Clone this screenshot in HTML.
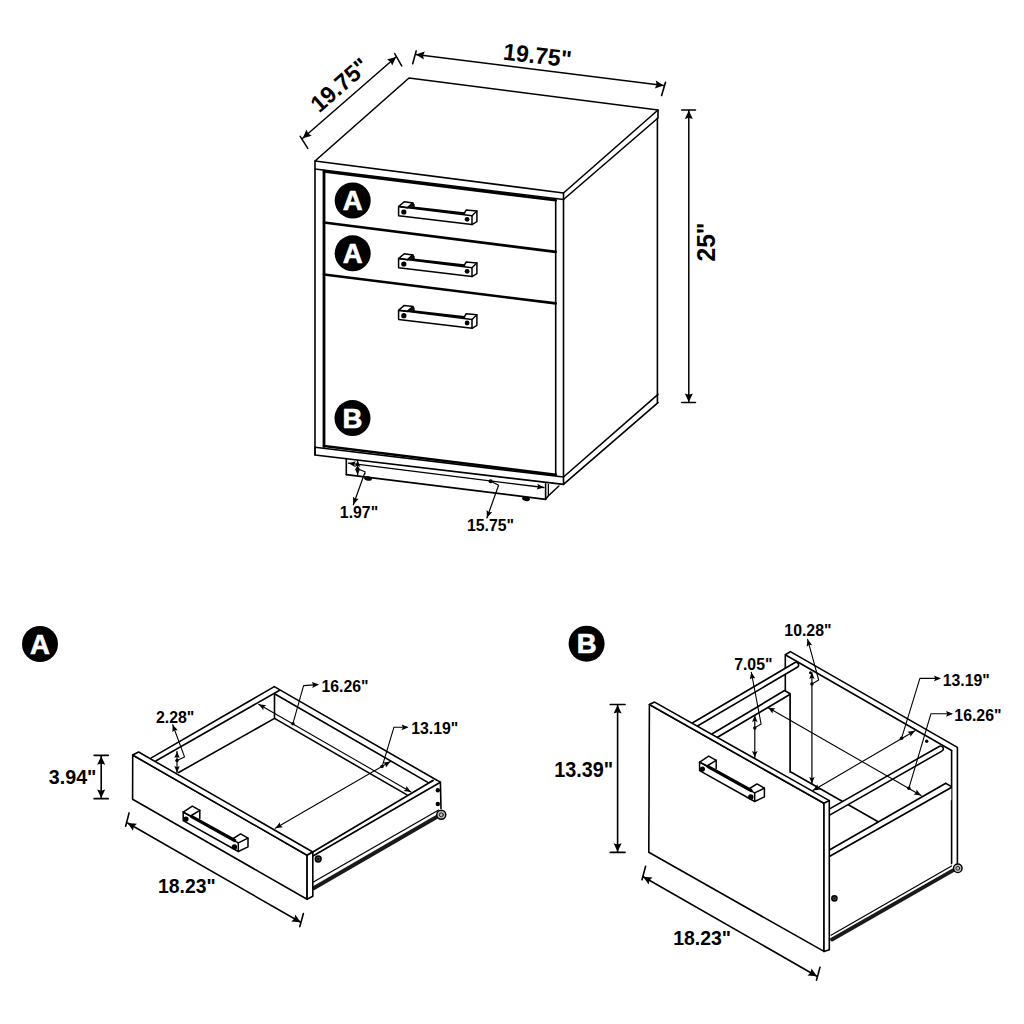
<!DOCTYPE html>
<html><head><meta charset="utf-8"><style>
html,body{margin:0;padding:0;background:#fff;width:1024px;height:1024px;overflow:hidden}
svg{display:block}
text{font-family:"Liberation Sans",sans-serif;font-weight:bold}
</style></head><body>
<svg width="1024" height="1024" viewBox="0 0 1024 1024" stroke="#000" stroke-linecap="round" stroke-linejoin="round" fill="none">
<polyline points="315,161 409,78 658,110 563.5,193 315,161" stroke-width="1.6" fill="none"/>
<polyline points="315,161 315,169 563.5,199.5 563.5,193" stroke-width="1.6" fill="none"/>
<polyline points="563.5,199.5 658,118 658,110" stroke-width="1.6" fill="none"/>
<line x1="315" y1="169" x2="315" y2="455" stroke-width="1.6"/>
<line x1="563.5" y1="199.5" x2="563.5" y2="484.4" stroke-width="1.6"/>
<line x1="657.4" y1="118" x2="657.4" y2="402.6" stroke-width="1.6"/>
<polyline points="315,447.3 563.5,477 658,394.3" stroke-width="1.6" fill="none"/>
<polyline points="315,447.3 315,455 563.5,484.4 658,402.6" stroke-width="1.6" fill="none"/>
<line x1="324" y1="171" x2="324" y2="446.5" stroke-width="2.8"/>
<line x1="555.7" y1="200" x2="555.7" y2="475" stroke-width="1.6"/>
<line x1="324" y1="171.5" x2="555.7" y2="200.3" stroke-width="2.6"/>
<line x1="324" y1="222.5" x2="555.7" y2="251.9" stroke-width="2.6"/>
<line x1="324" y1="274.5" x2="555.7" y2="303.4" stroke-width="2.6"/>
<line x1="324" y1="446" x2="555.7" y2="474.7" stroke-width="2.6"/>
<polygon points="398.6,206.6 472.0,215.79999999999998 472.0,224.6 398.6,215.79999999999998" stroke-width="1.5" fill="none"/>
<polygon points="398.6,206.6 404.20000000000005,201.7 413.0,202.9 407.40000000000003,207.7" stroke-width="1.5" fill="none"/>
<polygon points="413.0,202.9 414.20000000000005,204.0 414.20000000000005,208.0 407.40000000000003,207.7" stroke-width="0.8" fill="#111"/>
<line x1="413.40000000000003" y1="207.6" x2="464.20000000000005" y2="213.4" stroke-width="2.2"/>
<polyline points="464.20000000000005,213.4 466.20000000000005,210.0 476.90000000000003,211.0 476.90000000000003,221.7 472.0,224.6" stroke-width="1.5" fill="none"/>
<line x1="472.0" y1="215.79999999999998" x2="476.90000000000003" y2="211.0" stroke-width="1.5"/>
<circle cx="403.8" cy="212.0" r="2.6" fill="#000" stroke-width="0"/>
<circle cx="467.1" cy="219.29999999999998" r="2.4" fill="#000" stroke-width="0"/>
<polygon points="398.6,258.6 472.0,267.8 472.0,276.6 398.6,267.8" stroke-width="1.5" fill="none"/>
<polygon points="398.6,258.6 404.20000000000005,253.70000000000002 413.0,254.90000000000003 407.40000000000003,259.70000000000005" stroke-width="1.5" fill="none"/>
<polygon points="413.0,254.90000000000003 414.20000000000005,256.0 414.20000000000005,260.0 407.40000000000003,259.70000000000005" stroke-width="0.8" fill="#111"/>
<line x1="413.40000000000003" y1="259.6" x2="464.20000000000005" y2="265.40000000000003" stroke-width="2.2"/>
<polyline points="464.20000000000005,265.40000000000003 466.20000000000005,262.0 476.90000000000003,263.0 476.90000000000003,273.70000000000005 472.0,276.6" stroke-width="1.5" fill="none"/>
<line x1="472.0" y1="267.8" x2="476.90000000000003" y2="263.0" stroke-width="1.5"/>
<circle cx="403.8" cy="264.0" r="2.6" fill="#000" stroke-width="0"/>
<circle cx="467.1" cy="271.3" r="2.4" fill="#000" stroke-width="0"/>
<polygon points="398.6,310.3 472.0,319.5 472.0,328.3 398.6,319.5" stroke-width="1.5" fill="none"/>
<polygon points="398.6,310.3 404.20000000000005,305.40000000000003 413.0,306.6 407.40000000000003,311.40000000000003" stroke-width="1.5" fill="none"/>
<polygon points="413.0,306.6 414.20000000000005,307.7 414.20000000000005,311.7 407.40000000000003,311.40000000000003" stroke-width="0.8" fill="#111"/>
<line x1="413.40000000000003" y1="311.3" x2="464.20000000000005" y2="317.1" stroke-width="2.2"/>
<polyline points="464.20000000000005,317.1 466.20000000000005,313.7 476.90000000000003,314.7 476.90000000000003,325.40000000000003 472.0,328.3" stroke-width="1.5" fill="none"/>
<line x1="472.0" y1="319.5" x2="476.90000000000003" y2="314.7" stroke-width="1.5"/>
<circle cx="403.8" cy="315.7" r="2.6" fill="#000" stroke-width="0"/>
<circle cx="467.1" cy="323.0" r="2.4" fill="#000" stroke-width="0"/>
<circle cx="352.7" cy="200.5" r="18" fill="#000" stroke-width="0"/>
<text x="352.7" y="210.1" font-size="27.5" text-anchor="middle" fill="#fff" stroke="#fff" stroke-width="0.7">A</text>
<circle cx="352.7" cy="253.3" r="18" fill="#000" stroke-width="0"/>
<text x="352.7" y="262.90000000000003" font-size="27.5" text-anchor="middle" fill="#fff" stroke="#fff" stroke-width="0.7">A</text>
<circle cx="352.5" cy="418.1" r="18" fill="#000" stroke-width="0"/>
<text x="352.5" y="427.70000000000005" font-size="27.5" text-anchor="middle" fill="#fff" stroke="#fff" stroke-width="0.7">B</text>
<line x1="346.3" y1="458.6" x2="346.3" y2="474.6" stroke-width="1.6"/>
<line x1="346.3" y1="474.6" x2="545.6" y2="499.3" stroke-width="1.7"/>
<line x1="545.6" y1="483.7" x2="545.6" y2="499.3" stroke-width="1.6"/>
<line x1="548.4" y1="484.5" x2="548.4" y2="495.8" stroke-width="1.3"/>
<polyline points="545.6,499.3 548.4,495.8 558.9,486" stroke-width="1.5" fill="none"/>
<ellipse cx="368" cy="478.5" rx="4" ry="2.2" fill="#000" stroke="none" transform="rotate(10 368 478.5)"/>
<ellipse cx="526" cy="498.8" rx="4" ry="2.2" fill="#000" stroke="none" transform="rotate(10 526 498.8)"/>
<line x1="348.5" y1="463.2" x2="543.9" y2="487.5" stroke-width="1.3"/>
<polygon points="348.50,463.20 355.80,461.19 354.16,463.90 355.09,466.94" fill="#000" stroke="none"/>
<polygon points="543.90,487.50 536.60,489.51 538.24,486.80 537.31,483.76" fill="#000" stroke="none"/>
<circle cx="490.6" cy="481.3" r="2.0" fill="#000" stroke-width="0"/>
<polyline points="490.8,481.3 498.6,485.2 486.9,518" stroke-width="1.2" fill="none"/>
<polygon points="486.90,518.00 486.59,509.93 488.98,512.16 492.25,511.94" fill="#000" stroke="none"/>
<text x="0" y="0" font-size="16.5" text-anchor="middle" fill="#000" stroke="none" transform="translate(490.5 530.5) rotate(0) scale(0.96 1)">15.75"</text>
<line x1="357.6" y1="460.5" x2="357.6" y2="475" stroke-width="1.3"/>
<polygon points="357.60,460.50 360.35,467.00 357.60,465.70 354.85,467.00" fill="#000" stroke="none"/>
<polygon points="357.60,475.00 354.85,468.50 357.60,469.80 360.35,468.50" fill="#000" stroke="none"/>
<circle cx="357.6" cy="468.6" r="1.8" fill="#000" stroke-width="0"/>
<polyline points="357.5,468.8 365,471.7 365,474" stroke-width="1.1" fill="none"/>
<line x1="364.6" y1="473.2" x2="353.3" y2="504.7" stroke-width="1.2"/>
<polygon points="353.30,504.70 353.01,496.63 355.39,498.86 358.66,498.65" fill="#000" stroke="none"/>
<text x="0" y="0" font-size="16.5" text-anchor="middle" fill="#000" stroke="none" transform="translate(359 518.2) rotate(0) scale(0.96 1)">1.97"</text>
<line x1="302.7" y1="138.2" x2="396" y2="57" stroke-width="1.5"/>
<polygon points="302.70,138.20 306.49,129.60 308.13,133.47 311.74,135.64" fill="#000" stroke="none"/>
<polygon points="396.00,57.00 392.21,65.60 390.57,61.73 386.96,59.56" fill="#000" stroke="none"/>
<line x1="300.2" y1="136.3" x2="307.8" y2="148.4" stroke-width="1.5"/>
<line x1="394.7" y1="53.6" x2="401.7" y2="65.9" stroke-width="1.5"/>
<text x="0" y="0" font-size="23.5" text-anchor="middle" fill="#000" stroke="none" transform="translate(345 91) rotate(-41) scale(0.98 1)">19.75"</text>
<line x1="415.9" y1="54.5" x2="663.75" y2="85.6" stroke-width="1.5"/>
<polygon points="415.90,54.50 424.83,51.59 423.04,55.40 423.84,59.53" fill="#000" stroke="none"/>
<polygon points="663.75,85.60 654.82,88.51 656.61,84.70 655.81,80.57" fill="#000" stroke="none"/>
<line x1="416.2" y1="50.9" x2="412.7" y2="63.8" stroke-width="1.6"/>
<line x1="665.5" y1="82.3" x2="661.6" y2="95.4" stroke-width="1.6"/>
<text x="0" y="0" font-size="23.5" text-anchor="middle" fill="#000" stroke="none" transform="translate(536.5 63.5) rotate(6.5) scale(0.98 1)">19.75"</text>
<line x1="688.8" y1="110.5" x2="688.8" y2="402" stroke-width="1.5"/>
<polygon points="688.80,110.50 692.80,119.00 688.80,117.70 684.80,119.00" fill="#000" stroke="none"/>
<polygon points="688.80,402.00 684.80,393.50 688.80,394.80 692.80,393.50" fill="#000" stroke="none"/>
<line x1="681.7" y1="110" x2="695.5" y2="110" stroke-width="1.5"/>
<line x1="681.7" y1="402.6" x2="695.5" y2="402.6" stroke-width="1.5"/>
<text x="0" y="0" font-size="25" text-anchor="middle" fill="#000" stroke="none" transform="translate(715.2 242) rotate(-90) scale(0.98 1)">25"</text>
<circle cx="40" cy="644" r="18" fill="#000" stroke-width="0"/>
<text x="40" y="653.6" font-size="27.5" text-anchor="middle" fill="#fff" stroke="#fff" stroke-width="0.7">A</text>
<line x1="101.2" y1="756.2" x2="101.2" y2="798" stroke-width="1.6"/>
<polygon points="101.20,756.20 105.20,764.70 101.20,763.40 97.20,764.70" fill="#000" stroke="none"/>
<polygon points="101.20,798.00 97.20,789.50 101.20,790.80 105.20,789.50" fill="#000" stroke="none"/>
<line x1="94.2" y1="755.3" x2="108.2" y2="755.3" stroke-width="1.7"/>
<line x1="94.2" y1="798.7" x2="108.2" y2="798.7" stroke-width="1.7"/>
<text x="0" y="0" font-size="20.8" text-anchor="middle" fill="#000" stroke="none" transform="translate(72.6 783.6) rotate(0) scale(0.945 1)">3.94"</text>
<line x1="151.3" y1="757.9" x2="274.3" y2="686.6" stroke-width="1.6"/>
<line x1="156.1" y1="760.8" x2="279.2" y2="690.5" stroke-width="1.6"/>
<line x1="274.3" y1="686.6" x2="440.4" y2="782.3" stroke-width="1.6"/>
<line x1="274.5" y1="693.8" x2="428.7" y2="782.9" stroke-width="1.6"/>
<line x1="274.5" y1="693.8" x2="274.5" y2="718.4" stroke-width="1.6"/>
<line x1="178.6" y1="772.5" x2="274.5" y2="718.4" stroke-width="1.6"/>
<line x1="274.5" y1="718.4" x2="407" y2="794.9" stroke-width="1.6"/>
<polygon points="312.8,852 433,780.5 440.4,782.3 440.4,809 313,890" stroke-width="0.01" fill="#fff"/>
<line x1="312.8" y1="852" x2="433" y2="780.5" stroke-width="1.6"/>
<line x1="428.7" y1="782.9" x2="433" y2="780.5" stroke-width="1.6"/>
<line x1="313.4" y1="855.8" x2="440.4" y2="782.3" stroke-width="1.6"/>
<line x1="440.4" y1="782.3" x2="441" y2="808.5" stroke-width="1.6"/>
<circle cx="437.8" cy="790.2" r="2.2" fill="#000" stroke-width="0"/>
<circle cx="437.8" cy="804" r="2.2" fill="#000" stroke-width="0"/>
<circle cx="318.2" cy="859" r="2.9" fill="#444" stroke-width="1.5"/>
<circle cx="318.2" cy="859" r="1.0" fill="#000" stroke-width="0"/>
<line x1="313.4" y1="881.9" x2="438.7" y2="810.1" stroke-width="1.2"/>
<line x1="313.6" y1="888.2" x2="437.5" y2="816.4" stroke-width="4.0" stroke="#1a1a1a"/>
<circle cx="441.3" cy="814.8" r="4.5" fill="#bbb" stroke-width="1.4"/>
<circle cx="441.3" cy="814.8" r="2.0" fill="none" stroke-width="0.8"/>
<polygon points="132.7,755 307.1,855.2 307.1,899.3 132.6,799.3" stroke-width="1.6" fill="#fff"/>
<polygon points="132.7,755 138.6,752 312.8,852 307.1,855.2" stroke-width="1.6" fill="#fff"/>
<polygon points="307.1,855.2 312.8,852 312.8,896.2 307.1,899.3" stroke-width="1.6" fill="#fff"/>
<polyline points="183.2,812.1 183.2,820.7 238.29999999999998,851.5 248.0,846.8000000000001 248.0,838.2 240.6,833.9 233.2,838.5" stroke-width="1.5" fill="none"/>
<polygon points="183.2,812.1 192.29999999999998,806.1 199.79999999999998,810.3000000000001 190.6,816.0" stroke-width="1.5" fill="none"/>
<line x1="199.79999999999998" y1="810.3000000000001" x2="199.79999999999998" y2="818.6" stroke-width="1.5"/>
<polyline points="183.2,812.1 238.29999999999998,842.9 238.29999999999998,851.5" stroke-width="1.5" fill="none"/>
<line x1="238.29999999999998" y1="842.9" x2="248.0" y2="838.2" stroke-width="1.5"/>
<line x1="191.7" y1="816.7" x2="234.7" y2="840.5" stroke-width="3.2"/>
<circle cx="186.0" cy="819.1" r="2.6" fill="#000" stroke-width="0"/>
<circle cx="234.39999999999998" cy="846.9" r="2.7" fill="#000" stroke-width="0"/>
<line x1="177" y1="751.5" x2="177" y2="772.5" stroke-width="1.2"/>
<polygon points="177.00,751.50 179.75,758.00 177.00,756.70 174.25,758.00" fill="#000" stroke="none"/>
<polygon points="177.00,772.50 174.25,766.00 177.00,767.30 179.75,766.00" fill="#000" stroke="none"/>
<circle cx="177" cy="760.5" r="1.7" fill="#000" stroke-width="0"/>
<polyline points="177,760.5 184.5,756.9 172.7,724.7" stroke-width="1.1" fill="none"/>
<polygon points="172.70,724.70 177.83,730.27 174.66,730.05 172.39,732.27" fill="#000" stroke="none"/>
<text x="0" y="0" font-size="16.5" text-anchor="middle" fill="#000" stroke="none" transform="translate(175.2 722.5) rotate(0) scale(0.96 1)">2.28"</text>
<line x1="258.7" y1="704.2" x2="411" y2="792" stroke-width="1.1"/>
<polygon points="258.70,704.20 266.21,705.18 263.64,707.05 263.32,710.21" fill="#000" stroke="none"/>
<polygon points="411.00,792.00 403.49,791.02 406.06,789.15 406.38,785.99" fill="#000" stroke="none"/>
<circle cx="292.9" cy="723.7" r="1.8" fill="#000" stroke-width="0"/>
<polyline points="292.9,723.7 303.6,685.6 317.3,684.6" stroke-width="1.1" fill="none"/>
<polygon points="319.00,684.50 312.22,687.89 313.31,684.91 311.81,682.11" fill="#000" stroke="none"/>
<text x="0" y="0" font-size="16.5" text-anchor="middle" fill="#000" stroke="none" transform="translate(345 691.8) rotate(0) scale(0.96 1)">16.26"</text>
<line x1="275.3" y1="828.2" x2="390.5" y2="761.5" stroke-width="1.1"/>
<polygon points="275.30,828.20 279.90,822.18 280.23,825.34 282.81,827.20" fill="#000" stroke="none"/>
<polygon points="390.50,761.50 385.90,767.52 385.57,764.36 382.99,762.50" fill="#000" stroke="none"/>
<circle cx="382" cy="766.5" r="1.8" fill="#000" stroke-width="0"/>
<polyline points="382.2,766.4 393.9,727.3 407,727.3" stroke-width="1.1" fill="none"/>
<polygon points="408.60,727.30 401.60,730.20 402.90,727.30 401.60,724.40" fill="#000" stroke="none"/>
<text x="0" y="0" font-size="16.5" text-anchor="middle" fill="#000" stroke="none" transform="translate(434.8 733.8) rotate(0) scale(0.96 1)">13.19"</text>
<line x1="127.6" y1="823" x2="300.6" y2="922.3" stroke-width="1.6"/>
<polygon points="127.60,823.00 136.96,823.76 133.84,826.58 132.98,830.70" fill="#000" stroke="none"/>
<polygon points="300.60,922.30 291.24,921.54 294.36,918.72 295.22,914.60" fill="#000" stroke="none"/>
<line x1="129.1" y1="812.9" x2="125.6" y2="826.2" stroke-width="1.6"/>
<line x1="303.4" y1="913.5" x2="299.8" y2="926.6" stroke-width="1.6"/>
<text x="0" y="0" font-size="20.2" text-anchor="middle" fill="#000" stroke="none" transform="translate(186.9 893) rotate(0) scale(0.96 1)">18.23"</text>
<circle cx="586.6" cy="643.7" r="18" fill="#000" stroke-width="0"/>
<text x="586.6" y="653.3000000000001" font-size="27.5" text-anchor="middle" fill="#fff" stroke="#fff" stroke-width="0.7">B</text>
<line x1="617.6" y1="705" x2="617.6" y2="851.8" stroke-width="1.6"/>
<polygon points="617.60,705.00 621.60,713.50 617.60,712.20 613.60,713.50" fill="#000" stroke="none"/>
<polygon points="617.60,851.80 613.60,843.30 617.60,844.60 621.60,843.30" fill="#000" stroke="none"/>
<line x1="610.3" y1="704.5" x2="625" y2="704.5" stroke-width="1.7"/>
<line x1="610.3" y1="852.4" x2="625" y2="852.4" stroke-width="1.7"/>
<text x="0" y="0" font-size="22" text-anchor="middle" fill="#000" stroke="none" transform="translate(583.65 776.9) rotate(0) scale(0.9 1)">13.39"</text>
<polyline points="785.3,690.6 785.3,654.7 790.4,651.6 957.4,747.4 957.4,863.6" stroke-width="1.6" fill="none"/>
<line x1="786.5" y1="655.5" x2="951.6" y2="750.5" stroke-width="1.6"/>
<line x1="951.6" y1="750.5" x2="951.6" y2="863.6" stroke-width="1.6"/>
<circle cx="926.7" cy="741.3" r="1.7" fill="#000" stroke-width="0"/>
<line x1="790.4" y1="771.7" x2="877.7" y2="821.5" stroke-width="1.6"/>
<polygon points="710,738 784.6,690.6 790.1,693.7 790.1,772 715,800" stroke-width="0.01" fill="#fff"/>
<polyline points="712.3,733.8 784.6,690.6 790.1,693.7 790.1,772" stroke-width="1.7" fill="none"/>
<line x1="717.1" y1="737.5" x2="789.4" y2="694.7" stroke-width="1.7"/>
<line x1="691.5" y1="726.5" x2="795.9" y2="665.0" stroke-width="6.800000000000001" stroke-linecap="round"/>
<line x1="691.5" y1="726.5" x2="795.9" y2="665.0" stroke-width="3.6" stroke="#fff" stroke-linecap="round"/>
<polygon points="829,849.8 945.8,783.3 951.3,786.7 951.3,800 829,870" stroke-width="0.01" fill="#fff"/>
<line x1="829.8" y1="849.8" x2="945.8" y2="783.3" stroke-width="1.7"/>
<line x1="945.8" y1="783.3" x2="951.3" y2="786.5" stroke-width="1.5"/>
<line x1="829.8" y1="856.2" x2="951.3" y2="787.4" stroke-width="1.7"/>
<line x1="827" y1="813.5" x2="940.5" y2="748.8" stroke-width="7.0" stroke-linecap="round"/>
<line x1="827" y1="813.5" x2="940.5" y2="748.8" stroke-width="3.8000000000000003" stroke="#fff" stroke-linecap="round"/>
<line x1="831" y1="935.2" x2="951.6" y2="866" stroke-width="1.2"/>
<line x1="832" y1="939.5" x2="953" y2="870.4" stroke-width="3.8" stroke="#1a1a1a"/>
<circle cx="957.8" cy="868.3" r="4.3" fill="#bbb" stroke-width="1.4"/>
<circle cx="957.8" cy="868.3" r="1.9" fill="none" stroke-width="0.8"/>
<circle cx="834.4" cy="898.4" r="2.6" fill="#444" stroke-width="1.4"/>
<circle cx="834.4" cy="898.4" r="1.0" fill="#000" stroke-width="0"/>
<polygon points="649.4,704.5 824,803.3 824,951.4 648.8,852.3" stroke-width="1.6" fill="#fff"/>
<polygon points="649.4,704.5 654.6,702.1 829.3,800.6 824,803.3" stroke-width="1.6" fill="#fff"/>
<polygon points="824,803.3 829.3,800.6 829.3,949.7 824,951.4" stroke-width="1.6" fill="#fff"/>
<polyline points="699.6,762.1 699.6,770.7 754.7,801.5 764.4,796.8000000000001 764.4,788.2 757.0,783.9 749.6,788.5" stroke-width="1.5" fill="none"/>
<polygon points="699.6,762.1 708.7,756.1 716.2,760.3000000000001 707.0,766.0" stroke-width="1.5" fill="none"/>
<line x1="716.2" y1="760.3000000000001" x2="716.2" y2="768.6" stroke-width="1.5"/>
<polyline points="699.6,762.1 754.7,792.9 754.7,801.5" stroke-width="1.5" fill="none"/>
<line x1="754.7" y1="792.9" x2="764.4" y2="788.2" stroke-width="1.5"/>
<line x1="708.1" y1="766.7" x2="751.1" y2="790.5" stroke-width="3.2"/>
<circle cx="702.4" cy="769.1" r="2.6" fill="#000" stroke-width="0"/>
<circle cx="750.8000000000001" cy="796.9" r="2.7" fill="#000" stroke-width="0"/>
<line x1="754.8" y1="715.5" x2="754.8" y2="757.5" stroke-width="1.2"/>
<polygon points="754.80,715.50 757.55,722.00 754.80,720.70 752.05,722.00" fill="#000" stroke="none"/>
<polygon points="754.80,757.50 752.05,751.00 754.80,752.30 757.55,751.00" fill="#000" stroke="none"/>
<circle cx="754.8" cy="727.9" r="1.7" fill="#000" stroke-width="0"/>
<polyline points="754.8,727.9 761.1,724 751.3,672.2" stroke-width="1.1" fill="none"/>
<polygon points="751.30,672.20 755.45,678.54 752.36,677.80 749.75,679.62" fill="#000" stroke="none"/>
<text x="0" y="0" font-size="16.5" text-anchor="middle" fill="#000" stroke="none" transform="translate(753.3 669.8) rotate(0) scale(0.96 1)">7.05"</text>
<line x1="811.9" y1="672.5" x2="811.9" y2="783.5" stroke-width="1.2"/>
<polygon points="811.90,672.50 814.65,679.00 811.90,677.70 809.15,679.00" fill="#000" stroke="none"/>
<polygon points="811.90,783.50 809.15,777.00 811.90,778.30 814.65,777.00" fill="#000" stroke="none"/>
<circle cx="811.9" cy="684" r="1.7" fill="#000" stroke-width="0"/>
<circle cx="810.5" cy="672.8" r="1.5" fill="#000" stroke-width="0"/>
<polyline points="811.9,684 818.7,680 807.6,639.3" stroke-width="1.1" fill="none"/>
<polygon points="807.60,639.30 812.24,645.29 809.10,644.80 806.64,646.82" fill="#000" stroke="none"/>
<text x="0" y="0" font-size="16.5" text-anchor="middle" fill="#000" stroke="none" transform="translate(807.9 635.8) rotate(0) scale(0.96 1)">10.28"</text>
<line x1="767.9" y1="707.4" x2="921.1" y2="795.5" stroke-width="1.1"/>
<polygon points="767.90,707.40 775.41,708.38 772.84,710.24 772.52,713.40" fill="#000" stroke="none"/>
<polygon points="921.10,795.50 913.59,794.52 916.16,792.66 916.48,789.50" fill="#000" stroke="none"/>
<circle cx="908.9" cy="788.2" r="1.8" fill="#000" stroke-width="0"/>
<polyline points="908.9,788.2 930.9,713.8 951.6,713.8" stroke-width="1.1" fill="none"/>
<polygon points="953.00,713.80 946.00,716.70 947.30,713.80 946.00,710.90" fill="#000" stroke="none"/>
<text x="0" y="0" font-size="16.5" text-anchor="middle" fill="#000" stroke="none" transform="translate(977.9 721.1) rotate(0) scale(0.96 1)">16.26"</text>
<line x1="812.9" y1="790.4" x2="915" y2="730.8" stroke-width="1.1"/>
<polygon points="812.90,790.40 817.48,784.37 817.82,787.53 820.41,789.38" fill="#000" stroke="none"/>
<polygon points="915.00,730.80 910.42,736.83 910.08,733.67 907.49,731.82" fill="#000" stroke="none"/>
<circle cx="901.6" cy="738.2" r="1.8" fill="#000" stroke-width="0"/>
<polyline points="901.6,738.2 919.9,678.4 939.4,678.4" stroke-width="1.1" fill="none"/>
<polygon points="941.00,678.40 934.00,681.30 935.30,678.40 934.00,675.50" fill="#000" stroke="none"/>
<text x="0" y="0" font-size="16.5" text-anchor="middle" fill="#000" stroke="none" transform="translate(966.3 685.7) rotate(0) scale(0.96 1)">13.19"</text>
<line x1="643.2" y1="876.7" x2="816.9" y2="976.2" stroke-width="1.6"/>
<polygon points="643.20,876.70 652.56,877.45 649.45,880.28 648.59,884.40" fill="#000" stroke="none"/>
<polygon points="816.90,976.20 807.54,975.45 810.65,972.62 811.51,968.50" fill="#000" stroke="none"/>
<line x1="645.6" y1="866.2" x2="642" y2="879.7" stroke-width="1.6"/>
<line x1="820" y1="967.2" x2="816.5" y2="980.1" stroke-width="1.6"/>
<text x="0" y="0" font-size="20.6" text-anchor="middle" fill="#000" stroke="none" transform="translate(702.1 945.4) rotate(0) scale(0.945 1)">18.23"</text>
</svg>
</body></html>
